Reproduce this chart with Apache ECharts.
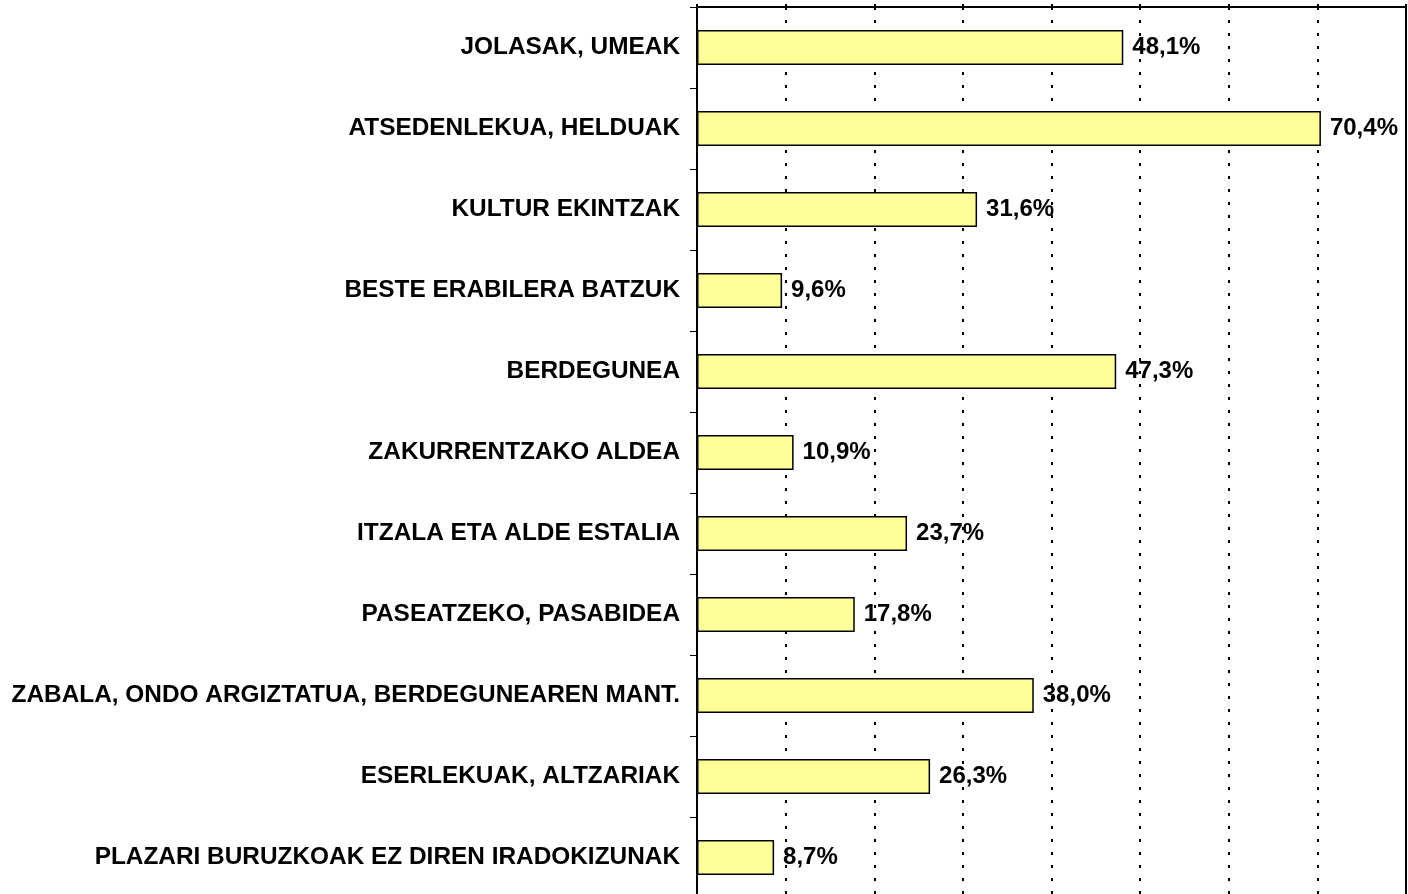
<!DOCTYPE html>
<html>
<head>
<meta charset="utf-8">
<script src="https://cdn.jsdelivr.net/npm/echarts@6/dist/echarts.min.js"></script>
<style>
  html, body { margin: 0; padding: 0; background: #fff; }
  #chart { width: 1408px; height: 894px; }
</style>
</head>
<body>
<div id="chart"></div>
<script>
// 类目（从上到下）
var categories = [
  'JOLASAK, UMEAK',
  'ATSEDENLEKUA, HELDUAK',
  'KULTUR EKINTZAK',
  'BESTE ERABILERA BATZUK',
  'BERDEGUNEA',
  'ZAKURRENTZAKO ALDEA',
  'ITZALA ETA ALDE ESTALIA',
  'PASEATZEKO, PASABIDEA',
  'ZABALA, ONDO ARGIZTATUA, BERDEGUNEAREN MANT.',
  'ESERLEKUAK, ALTZARIAK',
  'PLAZARI BURUZKOAK EZ DIREN IRADOKIZUNAK'
];
// 百分比数据
var values = [48.1, 70.4, 31.6, 9.6, 47.3, 10.9, 23.7, 17.8, 38.0, 26.3, 8.7];

var myChart = echarts.init(document.getElementById('chart'));
var option = {
  animation: false,
  textStyle: { fontFamily: 'Liberation Sans, Arial, sans-serif' },
  grid: {
    left: 697,
    top: 7,
    right: 2,
    bottom: -4,
    outerBoundsMode: 'none',
    show: true,
    borderColor: '#000',
    borderWidth: 2,
    containLabel: false
  },
  xAxis: {
    type: 'value',
    position: 'top',
    min: 0,
    max: 80,
    interval: 10,
    axisLine: { show: true, lineStyle: { color: '#000', width: 2 } },
    axisTick: { show: true, length: 3, lineStyle: { color: '#000', width: 2 } },
    axisLabel: { show: false },
    // 点状分割线
    splitLine: {
      show: true,
      lineStyle: { color: '#000', width: 2, type: [3, 10] }
    }
  },
  yAxis: {
    type: 'category',
    data: categories,
    inverse: true,
    axisLine: { show: true, lineStyle: { color: '#000', width: 2 } },
    axisTick: { show: true, length: 7, lineStyle: { color: '#000', width: 1 } },
    axisLabel: {
      color: '#000',
      fontWeight: 'bold',
      fontSize: 24.4,
      margin: 17
    },
    splitLine: { show: false }
  },
  series: [{
    type: 'bar',
    data: values,
    barWidth: 35,
    itemStyle: {
      color: '#FFFF99',
      borderColor: '#000',
      borderWidth: 1.5
    },
    label: {
      show: true,
      position: 'right',
      distance: 9,
      color: '#000',
      fontWeight: 'bold',
      fontSize: 24,
      formatter: function (p) {
        return p.value.toFixed(1).replace('.', ',') + '%';
      }
    }
  }]
};
myChart.setOption(option);
window.addEventListener('resize', function () {
  myChart.resize();
});
</script>
</body>
</html>
